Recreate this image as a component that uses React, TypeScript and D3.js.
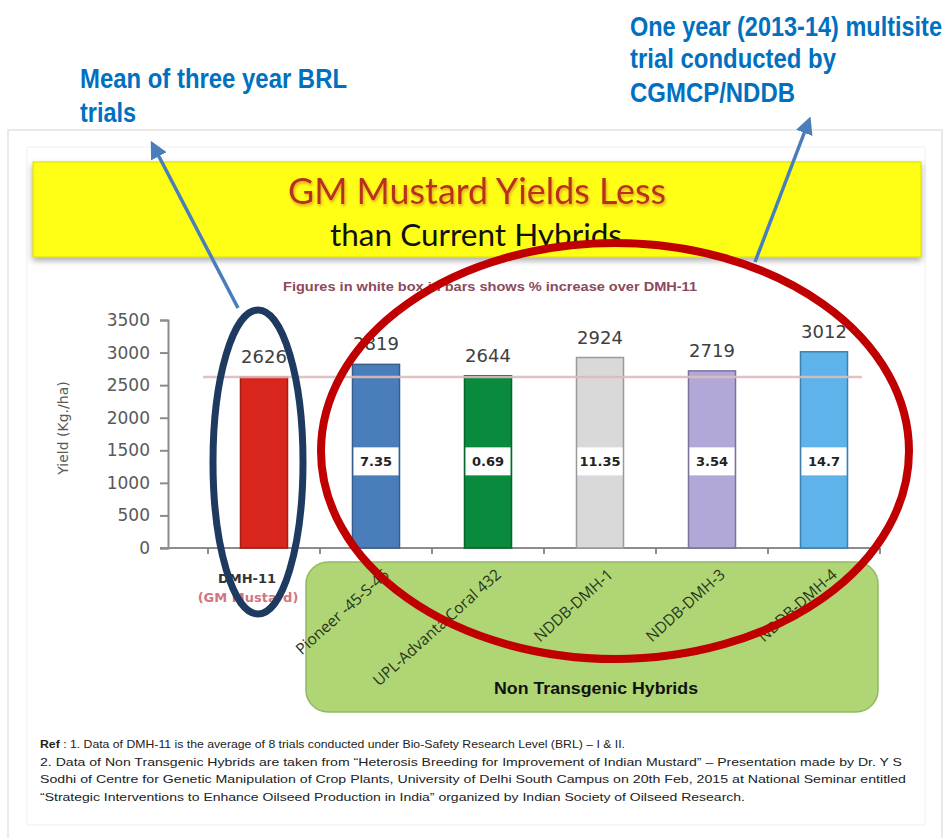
import React, { useEffect, useRef } from "react";
import { select, scaleLinear, scaleBand, axisLeft, format } from "d3";

// chart data
const categories = ["DMH-11", "Pioneer -45-S-46", "UPL-Advanta Coral 432", "NDDB-DMH-1", "NDDB-DMH-3", "NDDB-DMH-4"];
const yields = [2626, 2819, 2644, 2924, 2719, 3012];
const pctIncrease = ["", "7.35", "0.69", "11.35", "3.54", "14.7"];
const yTicks = [0, 500, 1000, 1500, 2000, 2500, 3000, 3500];
const baseline = 2626; // DMH-11 reference

const palette = ["#d9261c", "#4a7ebb", "#0a8a3c", "#d9d9d9", "#b2a8d8", "#5db3ea"];
const outline = ["#a61c15", "#375d8c", "#06662b", "#9a9a9a", "#7a7399", "#3d80ad"];

const footnotes = [
  "Ref : 1. Data of DMH-11 is the average of 8 trials conducted under Bio-Safety Research Level (BRL) \u2013 I & II.",
  "2. Data of Non Transgenic Hybrids are taken from \u201CHeterosis Breeding for Improvement of Indian Mustard\u201D \u2013 Presentation made by Dr. Y S",
  "Sodhi of Centre for Genetic Manipulation of Crop Plants, University of Delhi South Campus on 20th Feb, 2015 at National Seminar entitled",
  "\u201CStrategic Interventions to Enhance Oilseed Production in India\u201D organized by Indian Society of Oilseed Research.",
];
const footWidths = [585, 862, 866, 705];

const notes = [
  { text: "Mean of three year BRL", x: 80, y: 88, w: 267 },
  { text: "trials", x: 80, y: 122, w: 56 },
  { text: "One year (2013-14) multisite", x: 630, y: 36, w: 312 },
  { text: "trial conducted by", x: 630, y: 68, w: 206 },
  { text: "CGMCP/NDDB", x: 630, y: 102, w: 165 },
];

const W = 952;
const H = 838;

export default function App() {
  const yAxisRef = useRef<SVGGElement>(null);

  const y = scaleLinear().domain([0, 3500]).range([548, 320]);
  const x = scaleBand<string>().domain(categories).range([208, 880]).paddingInner(0.58).paddingOuter(0.29);
  const step = x.step();

  useEffect(() => {
    const g = select(yAxisRef.current);
    g.call(axisLeft(y).tickValues(yTicks).tickFormat(format("d")).tickSize(8).tickPadding(10) as any);
    g.select(".domain").attr("stroke", "#8c8c8c").attr("stroke-width", 2);
    g.selectAll(".tick line").attr("stroke", "#8c8c8c").attr("stroke-width", 2);
    g.selectAll(".tick text")
      .attr("fill", "#595959")
      .attr("font-size", 17)
      .attr("font-family", "DejaVu Sans, sans-serif");
  }, []);

  const blue = "#0070c0";
  const arrow = "#4a7ebb";

  return (
    <div style={{ position: "absolute", left: 0, top: 0 }}>
      <svg width={W} height={H} viewBox={`0 0 ${W} ${H}`} xmlns="http://www.w3.org/2000/svg">
        <defs>
          <marker id="head" viewBox="0 0 10 10" refX="6" refY="5" markerWidth="5" markerHeight="5" orient="auto-start-reverse">
            <path d="M0,0 L10,5 L0,10 z" fill={arrow} />
          </marker>
          <filter id="glow" x="-10%" y="-30%" width="120%" height="160%">
            <feGaussianBlur in="SourceAlpha" stdDeviation="1.5" />
            <feOffset dx="1" dy="1.5" result="b" />
            <feFlood floodColor="#e0a020" />
            <feComposite in2="b" operator="in" />
            <feMerge>
              <feMergeNode />
              <feMergeNode in="SourceGraphic" />
            </feMerge>
          </filter>
          <filter id="shadow" x="-5%" y="-10%" width="110%" height="130%">
            <feGaussianBlur in="SourceAlpha" stdDeviation="3" />
            <feOffset dx="0" dy="3" />
            <feComponentTransfer>
              <feFuncA type="linear" slope="0.35" />
            </feComponentTransfer>
            <feMerge>
              <feMergeNode />
              <feMergeNode in="SourceGraphic" />
            </feMerge>
          </filter>
        </defs>

        <rect width={W} height={H} fill="#fff" />

        {/* slide frame */}
        <rect x={8} y={130} width={934} height={730} fill="none" stroke="#e3e3e3" strokeWidth={1.5} />
        <rect x={27} y={147} width={898} height={678} fill="#fff" stroke="#f0f0f0" strokeWidth={1} />

        {/* title banner */}
        <rect x={33} y={162} width={888} height={95} fill="#ffff14" stroke="#d8d800" strokeWidth={1} filter="url(#shadow)" />
        <text x={477} y={204} textAnchor="middle" fontFamily="Lato, 'Open Sans', sans-serif" fontSize={36} fill="#b7321f"
          textLength={378} lengthAdjust="spacingAndGlyphs" filter="url(#glow)">
          GM Mustard Yields Less
        </text>
        <text x={476} y={246} textAnchor="middle" fontFamily="Lato, 'Open Sans', sans-serif" fontSize={31} fill="#111"
          textLength={292} lengthAdjust="spacingAndGlyphs">
          than Current Hybrids
        </text>

        <text x={490} y={291} textAnchor="middle" fontFamily="'Liberation Sans', Arial, sans-serif" fontWeight="bold" fontSize={12}
          fill="#8a4a5c" textLength={414} lengthAdjust="spacingAndGlyphs">
          Figures in white box in bars shows % increase over DMH-11
        </text>

        {/* y axis */}
        <g ref={yAxisRef} transform="translate(168,0)" />
        <text transform="translate(68,428) rotate(-90)" textAnchor="middle" fontFamily="DejaVu Sans, sans-serif" fontSize={14} fill="#595959">
          Yield (Kg./ha)
        </text>

        {/* x axis */}
        <line x1={160} x2={880} y1={y(0)} y2={y(0)} stroke="#8c8c8c" strokeWidth={2} />
        {categories.map((c, i) => (
          <line key={"t" + i} x1={(x(c) as number) - (step - x.bandwidth()) / 2} x2={(x(c) as number) - (step - x.bandwidth()) / 2}
            y1={y(0)} y2={y(0) + 6} stroke="#8c8c8c" strokeWidth={2} />
        ))}
        <line x1={880} x2={880} y1={y(0)} y2={y(0) + 6} stroke="#8c8c8c" strokeWidth={2} />

        {/* bars */}
        {categories.map((c, i) => (
          <rect key={c} x={x(c)} y={y(yields[i])} width={x.bandwidth()} height={y(0) - y(yields[i])}
            fill={palette[i]} stroke={outline[i]} strokeWidth={1.5} />
        ))}

        {/* DMH-11 reference line */}
        <line x1={203} x2={862} y1={y(baseline)} y2={y(baseline)} stroke="#dcbcbc" strokeWidth={2.5} opacity={0.9} />

        {/* value labels */}
        {categories.map((c, i) => (
          <text key={"v" + c} x={(x(c) as number) + x.bandwidth() / 2} y={y(yields[i]) - 14} textAnchor="middle"
            fontFamily="DejaVu Sans, sans-serif" fontSize={18} fill="#404040">
            {yields[i]}
          </text>
        ))}

        {/* % increase boxes */}
        {categories.map((c, i) =>
          pctIncrease[i] ? (
            <g key={"p" + c}>
              <rect x={(x(c) as number) + 1} y={y(1330) - 14} width={x.bandwidth() - 2} height={28} fill="#fff" />
              <text x={(x(c) as number) + x.bandwidth() / 2} y={y(1330) + 5} textAnchor="middle"
                fontFamily="DejaVu Sans, sans-serif" fontWeight="bold" fontSize={13} fill="#222">
                {pctIncrease[i]}
              </text>
            </g>
          ) : null
        )}

        {/* first category label */}
        <text x={247} y={583} textAnchor="middle" fontFamily="DejaVu Sans, sans-serif" fontWeight="bold" fontSize={13} fill="#333">
          {categories[0]}
        </text>
        <text x={248} y={602} textAnchor="middle" fontFamily="DejaVu Sans, sans-serif" fontWeight="bold" fontSize={13} fill="#d27680">
          (GM Mustard)
        </text>

        {/* non transgenic group */}
        <rect x={306} y={562} width={572} height={150} rx={22} fill="#afd574" stroke="#93b864" strokeWidth={1.5} />
        {categories.slice(1).map((c) => (
          <text key={"l" + c} transform={`translate(${(x(c) as number) + x.bandwidth() / 2 + 14},576) rotate(-42)`}
            textAnchor="end" fontFamily="'Open Sans', sans-serif" fontSize={15.5} fill="#26361a">
            {c}
          </text>
        ))}
        <text x={596} y={694} textAnchor="middle" fontFamily="'Liberation Sans', Arial, sans-serif" fontWeight="bold" fontSize={17}
          fill="#111" textLength={204} lengthAdjust="spacingAndGlyphs">
          Non Transgenic Hybrids
        </text>

        {/* footnotes */}
        {footnotes.map((f, i) => (
          <text key={"f" + i} x={40} y={748 + i * 17.7} fontFamily="'Liberation Sans', sans-serif" fontSize={11}
            fill="#222" textLength={footWidths[i]} lengthAdjust="spacingAndGlyphs">
            {i === 0 ? (
              <>
                <tspan fontWeight="bold">Ref</tspan>
                {f.slice(3)}
              </>
            ) : (
              f
            )}
          </text>
        ))}

        {/* highlight ellipses */}
        <ellipse cx={258} cy={462} rx={45} ry={152} fill="none" stroke="#1f3a60" strokeWidth={7} />
        <ellipse cx={615} cy={451} rx={294} ry={208} fill="none" stroke="#c00000" strokeWidth={8} />

        {/* arrows */}
        <line x1={238} y1={308} x2={154} y2={147} stroke={arrow} strokeWidth={3.5} markerEnd="url(#head)" />
        <line x1={755} y1={262} x2={808} y2={123} stroke={arrow} strokeWidth={3.5} markerEnd="url(#head)" />

        {/* annotations: narrow bold face, stretched vertically */}
        {notes.map((n) => (
          <text key={n.text} transform={`translate(${n.x},${n.y}) scale(1,1.2)`} fontFamily="'Liberation Sans', Arial, sans-serif"
            fontWeight="bold" fontSize={22.5} fill={blue} textLength={n.w} lengthAdjust="spacingAndGlyphs">
            {n.text}
          </text>
        ))}
      </svg>
    </div>
  );
}
